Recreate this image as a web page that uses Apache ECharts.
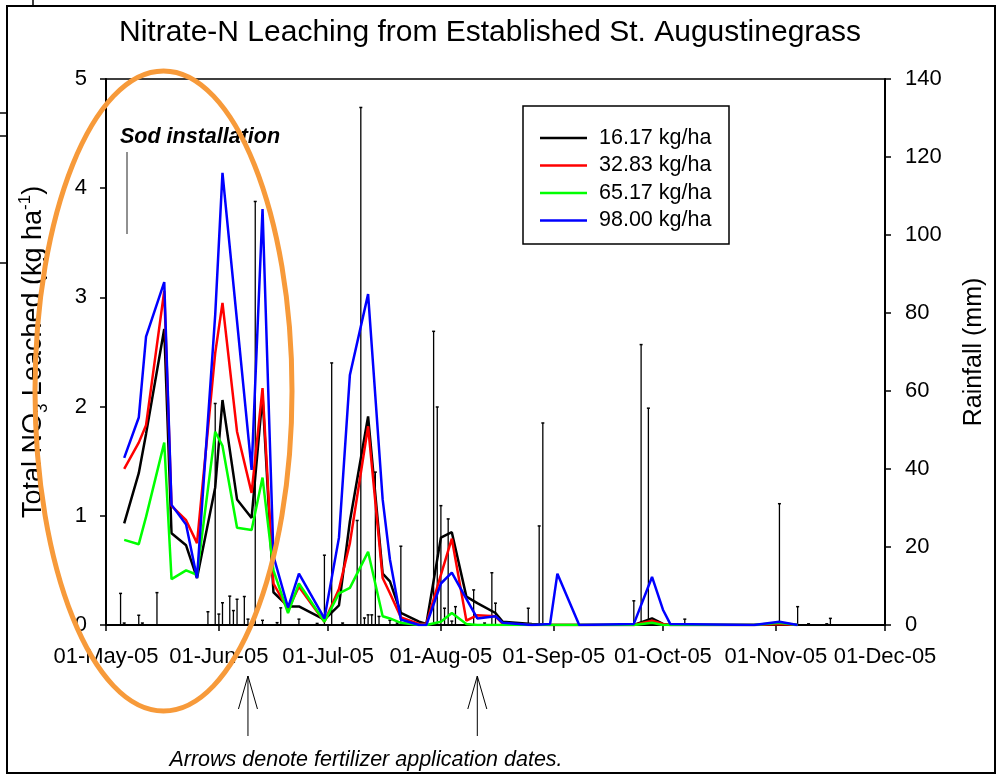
<!DOCTYPE html>
<html><head><meta charset="utf-8">
<script src="https://cdn.jsdelivr.net/npm/echarts@6/dist/echarts.min.js"></script>
<style>html,body{margin:0;padding:0;background:#fff}#c{width:1000px;height:778px}</style>
</head><body><div id="c"></div>
<script>
// ---- data ----
const sampleDates = ['2005-05-06','2005-05-10','2005-05-12','2005-05-17','2005-05-19','2005-05-23','2005-05-26','2005-05-31','2005-06-02','2005-06-06','2005-06-10','2005-06-13','2005-06-16','2005-06-20','2005-06-23','2005-06-30','2005-07-04','2005-07-07','2005-07-12','2005-07-16','2005-07-18','2005-07-21','2005-07-26','2005-07-28','2005-08-01','2005-08-04','2005-08-08','2005-08-11','2005-08-16','2005-08-18','2005-08-26','2005-08-31','2005-09-02','2005-09-08','2005-09-23','2005-09-28','2005-10-01','2005-10-03','2005-10-26','2005-11-02','2005-11-07'];
const rate1617 = [0.93,1.39,1.75,2.71,0.84,0.73,0.43,1.26,2.06,1.15,0.98,2.10,0.30,0.17,0.17,0.05,0.18,0.95,1.91,0.47,0.40,0.11,0.03,0.01,0.80,0.85,0.26,0.20,0.11,0.03,0.01,0,0,0,0,0.06,0.01,0,0,0.01,0];
const rate3283 = [1.43,1.67,1.83,3.06,1.09,0.96,0.75,2.49,2.95,1.77,1.21,2.17,0.38,0.14,0.35,0.03,0.33,0.75,1.82,0.43,0.29,0.07,0.01,0.01,0.46,0.79,0.04,0.09,0.08,0.01,0,0,0,0,0,0.04,0.01,0,0,0.01,0];
const rate6517 = [0.78,0.74,0.99,1.67,0.42,0.50,0.46,1.77,1.64,0.89,0.87,1.35,0.50,0.11,0.38,0.03,0.29,0.34,0.67,0.08,0.06,0.02,0,0,0.03,0.11,0.01,0,0,0,0,0,0,0,0,0.02,0,0,0,0.02,0];
const rate9800 = [1.53,1.90,2.64,3.14,1.10,0.92,0.43,2.84,4.14,2.78,1.42,3.81,0.63,0.16,0.47,0.06,0.80,2.29,3.03,1.15,0.60,0.05,0,0,0.38,0.48,0.24,0.06,0.08,0.02,0,0.01,0.47,0,0.01,0.44,0.14,0.01,0,0.03,0];
const seriesNames = ['16.17 kg/ha','32.83 kg/ha','65.17 kg/ha','98.00 kg/ha'];
const seriesColors = ['#000000','#ff0000','#00ff00','#0000ff'];

const rainDates = ['2005-05-05','2005-05-06','2005-05-10','2005-05-11','2005-05-15','2005-05-29','2005-05-31','2005-06-01','2005-06-02','2005-06-04','2005-06-05','2005-06-06','2005-06-08','2005-06-09','2005-06-11','2005-06-13','2005-06-17','2005-06-18','2005-06-23','2005-06-28','2005-06-30','2005-07-02','2005-07-05','2005-07-09','2005-07-10','2005-07-11','2005-07-12','2005-07-13','2005-07-14','2005-07-15','2005-07-18','2005-07-20','2005-07-21','2005-07-30','2005-07-31','2005-08-01','2005-08-02','2005-08-03','2005-08-04','2005-08-05','2005-08-10','2005-08-13','2005-08-15','2005-08-16','2005-08-25','2005-08-28','2005-08-29','2005-09-23','2005-09-25','2005-09-27','2005-10-07','2005-11-02','2005-11-07','2005-11-10','2005-11-15','2005-11-16'];
const rainMm = [8.1,0.5,2.5,0.5,8.3,3.4,56.8,2.8,5.7,7.4,3.7,6.6,7.3,1.5,108.6,1.2,0.6,4.4,1.5,0.4,17.9,67.2,0.5,26.8,132.7,1.8,2.6,2.6,39.2,2.2,1.2,0.5,20.2,75.3,55.9,30.6,4.3,27.2,1.0,4.7,9.0,0.5,13.4,5.6,4.3,25.4,51.8,6.2,71.9,55.6,1.5,31.1,4.7,0.3,0.3,1.7];

const monthTicks = ['2005-05-01','2005-06-01','2005-07-01','2005-08-01','2005-09-01','2005-10-01','2005-11-01','2005-12-01'];
const monthNames = ['Jan','Feb','Mar','Apr','May','Jun','Jul','Aug','Sep','Oct','Nov','Dec'];
const fertDates = ['2005-06-09','2005-08-11'];

// ---- helpers ----
function ts(s){const p=s.split('-').map(Number);return Date.UTC(p[0],p[1]-1,p[2]);}
function fmt(v){const d=new Date(v);return '01-'+monthNames[d.getUTCMonth()]+'-'+String(d.getUTCFullYear()).slice(2);}
const FONT = "'Liberation Sans', Arial, Helvetica, sans-serif";
const rates = [rate1617, rate3283, rate6517, rate9800];
const tickVals = monthTicks.map(ts);

const chart = echarts.init(document.getElementById('c'), null, {renderer:'canvas'});

const lineSeries = rates.map((arr,i)=>({
  name: seriesNames[i], type:'line', xAxisIndex:0, yAxisIndex:0,
  data: sampleDates.map((d,j)=>[ts(d), arr[j]]),
  symbol:'none', color: seriesColors[i],
  lineStyle:{width:2.5, color: seriesColors[i]}, z: 5+i, animation:false
}));

const rainSeries = {
  name:'Rainfall', type:'custom', xAxisIndex:0, yAxisIndex:1, z:3, animation:false,
  data: rainDates.map((d,j)=>[ts(d), rainMm[j]]),
  encode:{x:0,y:1},
  renderItem: function(params, api){
    const x = api.value(0), v = api.value(1);
    const p0 = api.coord([x,0]), p1 = api.coord([x,v]);
    return {type:'group', children:[
      {type:'line', shape:{x1:p0[0],y1:p0[1],x2:p1[0],y2:p1[1]}, style:{stroke:'#000',lineWidth:1.3}},
      {type:'line', shape:{x1:p1[0]-1.5,y1:p1[1],x2:p1[0]+1.5,y2:p1[1]}, style:{stroke:'#000',lineWidth:1.5}}
    ]};
  }
};

const option = {
  animation:false,
  backgroundColor:'#fff',
  textStyle:{fontFamily:FONT},
  title:{text:'Nitrate-N Leaching from Established St. Augustinegrass', left:485, top:13, textAlign:'center',
    textStyle:{fontFamily:FONT, fontSize:30, fontWeight:'normal', color:'#000'}},
  grid:{left:106, right:115, top:79, bottom:153, show:true, borderColor:'#000', borderWidth:1.5, backgroundColor:'transparent'},
  legend:{data:seriesNames, orient:'vertical', left:540, top:127, icon:'rect', itemWidth:47, itemHeight:2.5, itemGap:5.5,
    padding:0, textStyle:{fontFamily:FONT, fontSize:21.5, color:'#000', lineHeight:20, padding:[0,0,0,7]}},
  xAxis:[{type:'value', min:ts('2005-05-01'), max:ts('2005-12-01'),
    axisLine:{onZero:false, lineStyle:{color:'#000', width:2}},
    axisTick:{show:true, length:6, customValues:tickVals, lineStyle:{color:'#000', width:1.5}},
    axisLabel:{customValues:tickVals, formatter:fmt, fontFamily:FONT, fontSize:22, color:'#000', margin:21, showMinLabel:true, showMaxLabel:true},
    splitLine:{show:false}}],
  yAxis:[{type:'value', min:0, max:5, interval:1, position:'left',
    name:'{a|Total NO}{s|3}{a| Leached (kg ha}{p|-1}{a|)}', nameLocation:'middle', nameRotate:90, nameGap:55,
    nameTextStyle:{fontFamily:FONT, fontSize:27, color:'#000', rich:{
      a:{fontFamily:FONT, fontSize:27, color:'#000', lineHeight:34},
      s:{fontFamily:FONT, fontSize:17, color:'#000', verticalAlign:'bottom'},
      p:{fontFamily:FONT, fontSize:17, color:'#000', verticalAlign:'top'}}},
    axisLine:{show:true, lineStyle:{color:'#000', width:2}},
    axisTick:{show:true, length:6, lineStyle:{color:'#000', width:1.5}},
    axisLabel:{fontFamily:FONT, fontSize:22, color:'#000', margin:19},
    splitLine:{show:false}},
   {type:'value', min:0, max:140, interval:20, position:'right',
    name:'Rainfall (mm)', nameLocation:'middle', nameRotate:90, nameGap:77,
    nameTextStyle:{fontFamily:FONT, fontSize:25, color:'#000'},
    axisLine:{show:true, lineStyle:{color:'#000', width:2}},
    axisTick:{show:true, length:6, lineStyle:{color:'#000', width:1.5}},
    axisLabel:{fontFamily:FONT, fontSize:22, color:'#000', margin:20},
    splitLine:{show:false}}],
  series:[rainSeries].concat(lineSeries)
};
chart.setOption(option);

// ---- annotations ----
const g = [
  {type:'rect', shape:{x:7, y:6, width:988, height:767}, style:{fill:'none', stroke:'#000', lineWidth:2}, z:1},
  {type:'line', shape:{x1:0,y1:113,x2:7,y2:113}, style:{stroke:'#000', lineWidth:1.5}},
  {type:'line', shape:{x1:0,y1:136,x2:7,y2:136}, style:{stroke:'#000', lineWidth:1.5}},
  {type:'line', shape:{x1:0,y1:263,x2:7,y2:263}, style:{stroke:'#000', lineWidth:1.5}},
  {type:'line', shape:{x1:33,y1:0,x2:33,y2:6}, style:{stroke:'#000', lineWidth:1.5}},
  {type:'rect', shape:{x:523, y:106, width:206, height:138}, style:{fill:'none', stroke:'#000', lineWidth:1.5}, z:10},
  {type:'text', x:120, y:137, style:{text:'Sod installation', font:"italic bold 21.5px "+FONT, fill:'#000', textVerticalAlign:'middle'}, z:10},
  {type:'line', shape:{x1:127,y1:152,x2:127,y2:234}, style:{stroke:'#222', lineWidth:1}, z:10},
  {type:'text', x:366, y:760, style:{text:'Arrows denote fertilizer application dates.', font:"italic 21.5px "+FONT, fill:'#000', textAlign:'center', textVerticalAlign:'middle'}, z:10},
  {type:'ellipse', shape:{cx:163.5, cy:391, rx:128.5, ry:320}, style:{fill:'none', stroke:'#f79a3a', lineWidth:5}, z:50}
];
fertDates.forEach(d=>{
  const x = chart.convertToPixel({xAxisIndex:0}, ts(d));
  g.push({type:'line', shape:{x1:x,y1:676,x2:x,y2:736}, style:{stroke:'#000', lineWidth:1}, z:10});
  g.push({type:'polyline', shape:{points:[[x-9.5,709],[x,676],[x+9.5,709]]}, style:{stroke:'#000', fill:'none', lineWidth:1}, z:10});
});
chart.setOption({graphic:g});
</script></body></html>
